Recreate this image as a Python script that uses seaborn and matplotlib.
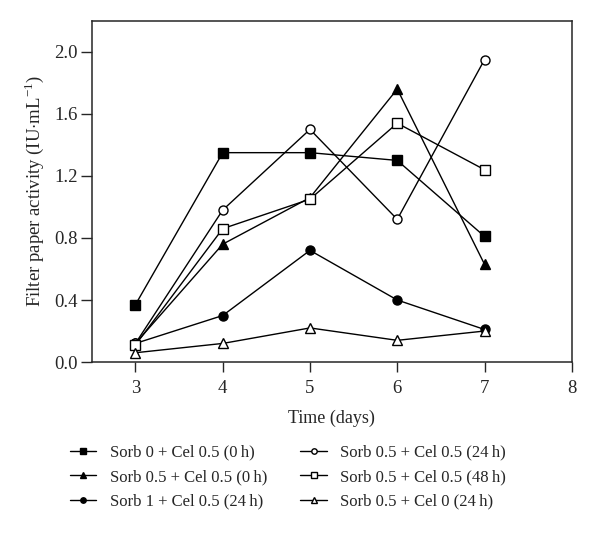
import numpy as np
import pandas as pd
import seaborn as sns
import matplotlib.pyplot as plt

days = [3, 4, 5, 6, 7]
labels = ['Sorb 0 + Cel 0.5 (0\u2009h)', 'Sorb 0.5 + Cel 0.5 (0\u2009h)', 'Sorb 1 + Cel 0.5 (24\u2009h)',
          'Sorb 0.5 + Cel 0.5 (24\u2009h)', 'Sorb 0.5 + Cel 0.5 (48\u2009h)', 'Sorb 0.5 + Cel 0 (24\u2009h)']
sorb0_cel05_0h = [0.37, 1.35, 1.35, 1.30, 0.81]
sorb05_cel05_0h = [0.12, 0.76, 1.06, 1.76, 0.63]
sorb1_cel05_24h = [0.12, 0.30, 0.72, 0.40, 0.21]
sorb05_cel05_24h = [0.12, 0.98, 1.50, 0.92, 1.95]
sorb05_cel05_48h = [0.11, 0.86, 1.05, 1.54, 1.24]
sorb05_cel0_24h = [0.06, 0.12, 0.22, 0.14, 0.20]

series = [sorb0_cel05_0h, sorb05_cel05_0h, sorb1_cel05_24h, sorb05_cel05_24h, sorb05_cel05_48h, sorb05_cel0_24h]
markers = ['s', '^', 'o', 'o', 's', '^']
faces = ['black', 'black', 'black', 'white', 'white', 'white']

sns.set_style("ticks")
plt.rcParams['font.family'] = ['Liberation Serif', 'DejaVu Serif']
plt.rcParams['mathtext.fontset'] = 'custom'
plt.rcParams['mathtext.rm'] = 'Liberation Serif'
plt.rcParams['font.size'] = 12

fig, ax = plt.subplots(figsize=(6, 5.34), dpi=100)
fig.subplots_adjust(left=0.153, right=0.953, top=0.961, bottom=0.322)

# one line per treatment, all black; open markers get a white face
for i in range(6):
    df = pd.DataFrame({'day': days, 'fpa': series[i]})
    sns.lineplot(ax=ax, data=df, x='day', y='fpa', color='black', marker=markers[i],
                 markerfacecolor=faces[i], markeredgecolor='black', markersize=6.5,
                 markeredgewidth=1.0, linewidth=1.0, label=labels[i], legend=False)

ax.set_xlim(2.5, 8)
ax.set_ylim(0, 2.2)
ax.set_xticks([3, 4, 5, 6, 7, 8])
ax.set_yticks([0.0, 0.4, 0.8, 1.2, 1.6, 2.0])
ax.set_yticklabels(['0.0', '0.4', '0.8', '1.2', '1.6', '2.0'])
ax.set_xlabel('Time (days)', fontsize=13, labelpad=9)
ax.set_ylabel('Filter paper activity (IU$\\cdot$mL$^{-1}$)', fontsize=13.5, labelpad=6)
ax.tick_params(axis='x', direction='out', length=7, width=1, labelsize=13.5, pad=6)
ax.tick_params(axis='y', direction='out', length=8, width=1, labelsize=13.5, pad=2)
for s in ax.spines.values():
    s.set_linewidth(1.1)

handles = ax.get_lines()
fig.legend(handles=handles, labels=labels, ncol=2, loc='upper left', bbox_to_anchor=(0.091, 0.195),
           frameon=False, markerscale=0.6, handlelength=1.6, columnspacing=2.0, labelspacing=0.5,
           fontsize=12)

fig.savefig('out.png', dpi=100)
